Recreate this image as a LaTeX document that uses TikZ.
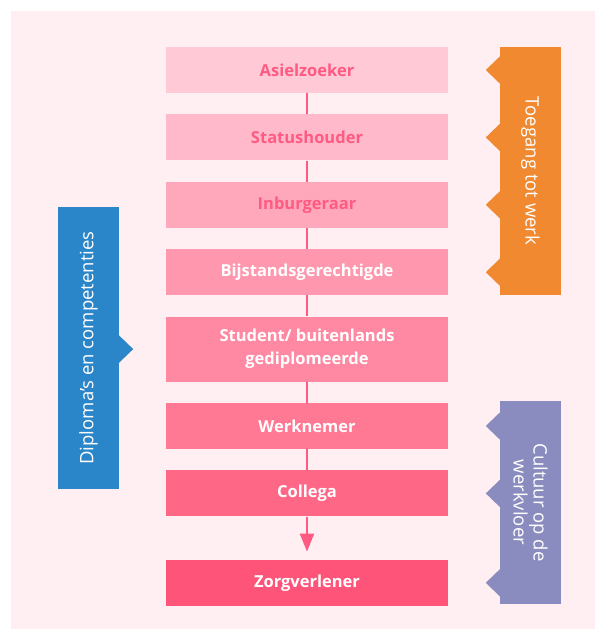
\documentclass[tikz,border=0pt]{standalone}
\usepackage{fontspec}
\setmainfont{Open Sans}
\usetikzlibrary{arrows.meta,positioning}
\definecolor{paperbg}{HTML}{FFEEF2}
\definecolor{rose}{HTML}{FF5A82}
\definecolor{rungA}{HTML}{FFC9D6}
\definecolor{rungB}{HTML}{FFB9CA}
\definecolor{rungC}{HTML}{FFA8BC}
\definecolor{rungD}{HTML}{FF98AE}
\definecolor{rungE}{HTML}{FF88A2}
\definecolor{rungF}{HTML}{FF7894}
\definecolor{rungG}{HTML}{FF6787}
\definecolor{rungH}{HTML}{FF5479}
\definecolor{bandorange}{HTML}{F0892F}
\definecolor{bandblue}{HTML}{2A85C9}
\definecolor{bandpurple}{HTML}{8A8CBF}
\tikzset{
  ladder diagram/.style={
    x=1pt,
    y=-1pt,
    line cap=butt,
    line join=miter
  },
  rungbox/.style={
    minimum width=282pt,
    minimum height=46pt,
    inner sep=0pt,
    align=center,
    font=\bfseries\fontsize{16.5}{23}\selectfont
  },
  lightrung/.style={
    rungbox,
    text=rose
  },
  darkrung/.style={
    rungbox,
    text=white
  },
  sideband/.style={
    minimum width=61pt,
    inner sep=0pt
  },
  bandtext/.style={
    text=white,
    align=center,
    inner sep=0pt,
    font=\fontsize{18.5}{20}\selectfont
  },
  ladderline/.style={
    draw=rose,
    line width=2pt
  }
}

\begin{document}
\begin{tikzpicture}[ladder diagram, node distance=21pt]
\useasboundingbox (0,0) rectangle (595,629);
\fill[paperbg] (11,11) rectangle (595,629);

% the ladder of roles
\node[lightrung, fill=rungA] (asiel) at (307,70) {Asielzoeker};
\node[lightrung, fill=rungB, below=of asiel] (status) {Statushouder};
\node[lightrung, fill=rungC, below=of status] (inburg) {Inburgeraar};
\node[darkrung, fill=rungD, below=of inburg] (bijstand) {Bijstandsgerechtigde};
\node[darkrung, fill=rungE, below=of bijstand, minimum height=65pt] (student) {Student/ buitenlands\\gediplomeerde};
\node[darkrung, fill=rungF, below=of student] (werk) {Werknemer};
\node[darkrung, fill=rungG, below=of werk] (collega) {Collega};
\node[darkrung, fill=rungH, below=43pt of collega] (zorg) {Zorgverlener};

\draw[ladderline] (asiel) -- (status);
\draw[ladderline] (status) -- (inburg);
\draw[ladderline] (inburg) -- (bijstand);
\draw[ladderline] (bijstand) -- (student);
\draw[ladderline] (student) -- (werk);
\draw[ladderline] (werk) -- (collega);
\draw[ladderline, -{Triangle[width=14pt,length=18pt]}, shorten >=8pt] (collega) -- (zorg);

% side bands with notches pointing at the rungs
\node[sideband, fill=bandorange, minimum height=248pt] (access) at (530.5,171) {};
\node[bandtext, rotate=-90] (accesstext) at (access) {Toegang tot werk};
\foreach \row in {asiel,status,inburg,bijstand}
  \fill[bandorange] (access.west |- \row) ++(0.5,-14) -- ++(-14.5,14) -- ++(14.5,14) -- cycle;

\node[sideband, fill=bandblue, minimum height=282pt] (diploma) at (88.5,348) {};
\node[bandtext, rotate=90] (diplomatext) at (diploma) {Diploma's en competenties};
\fill[bandblue] (diploma.east |- student) ++(-0.5,-14) -- ++(14.5,14) -- ++(-14.5,14) -- cycle;

\node[sideband, fill=bandpurple, minimum height=203pt] (culture) at (530.5,502.5) {};
\node[bandtext, rotate=-90] (culturetext) at (culture) {Cultuur op de\\werkvloer};
\foreach \row in {werk,collega,zorg}
  \fill[bandpurple] (culture.west |- \row) ++(0.5,-14) -- ++(-14.5,14) -- ++(14.5,14) -- cycle;
\end{tikzpicture}
\end{document}
